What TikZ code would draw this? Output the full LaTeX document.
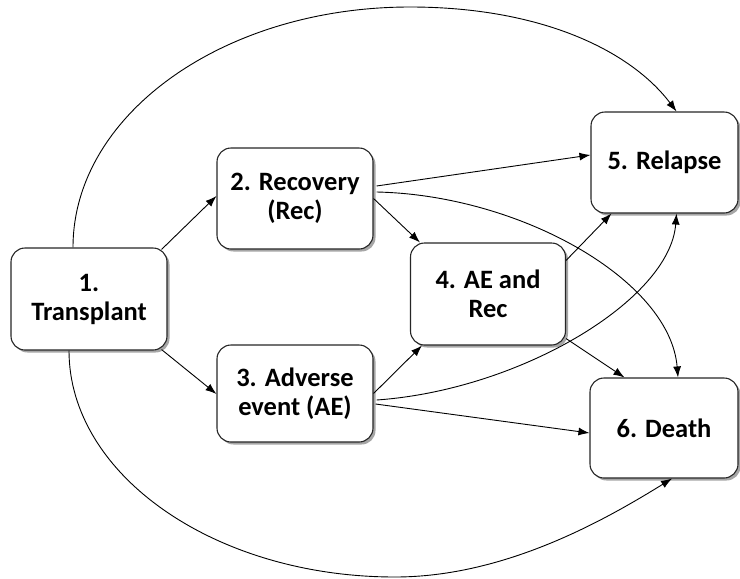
\documentclass[tikz,border=0pt]{standalone}
\usepackage{fontspec}
\setmainfont{Carlito}
\usetikzlibrary{arrows.meta,shadows}
\begin{document}
\begin{tikzpicture}[x=1pt,y=-1pt,
  stbox/.style={draw=black!85, line width=1.1pt, rounded corners=14pt, fill=white,
    align=center, inner sep=0pt, font=\fontsize{26.5}{29}\selectfont\bfseries,
    drop shadow={shadow xshift=2.5pt, shadow yshift=-2.5pt, opacity=0.35, fill=black}},
  conn/.style={line width=0.9pt, -{Latex[length=11pt,width=8pt]}}]
\useasboundingbox (0,0) rectangle (740,579);
\node[stbox, minimum width=156pt, minimum height=102pt] (n1) at (89,299) {1.\\Transplant};
\node[stbox, minimum width=156pt, minimum height=101pt] (n2) at (295,198.5) {2. Recovery\\(Rec)};
\node[stbox, minimum width=156pt, minimum height=97pt] (n3) at (295,393.5) {3. Adverse\\event (AE)};
\node[stbox, minimum width=155pt, minimum height=102pt] (n4) at (488,294) {4. AE and\\Rec};
\node[stbox, minimum width=147pt, minimum height=101pt] (n5) at (664.5,162.5) {5. Relapse};
\node[stbox, minimum width=148pt, minimum height=100pt] (n6) at (664,428) {6. Death};
% endpoints
\coordinate (a1) at ([xshift=-16pt]n1.north);
\coordinate (t1) at (410,7);
\coordinate (a5) at ([xshift=12pt]n5.north);
\coordinate (b1) at ([xshift=-20pt]n1.south);
\coordinate (t2) at (395,577);
\coordinate (b6) at ([xshift=8pt]n6.south);
% straight connectors
\draw[conn] ([xshift=-6pt,yshift=-2pt]n1.north east) -- ([yshift=2.5pt]n2.west);
\draw[conn] ([xshift=-6pt,yshift=1pt]n1.south east) -- ([yshift=-0.5pt]n3.west);
\draw[conn] (n2.east) -- ([xshift=10pt]n4.north west);
\draw[conn] (n3.east) -- ([xshift=12pt]n4.south west);
\draw[conn] ([xshift=3pt,yshift=12.5pt]n2.east) -- ([yshift=7.5pt]n5.west);
\draw[conn] ([xshift=2pt,yshift=-10.5pt]n3.east) -- ([yshift=-5pt]n6.west);
\draw[conn] ([yshift=-18pt]n4.north east) -- ([xshift=21pt]n5.south west);
\draw[conn] ([yshift=7pt]n4.south east) -- ([xshift=35pt]n6.north west);
% curved connectors
\draw[conn] ([xshift=3pt,yshift=6.5pt]n2.east) .. controls (520,195) and (670,280) .. ([xshift=14pt]n6.north);
\draw[conn] ([xshift=3pt,yshift=-6.5pt]n3.east) .. controls (520,390) and (670,300) .. ([xshift=12pt]n5.south);
\draw[conn] (a1) .. controls (73,115) and (223,7) .. (t1) .. controls (540,7) and (630,50) .. (a5);
\draw[conn] (b1) .. controls (69,475) and (215,577) .. (t2) .. controls (505,577) and (605,520) .. (b6);
\end{tikzpicture}
\end{document}
